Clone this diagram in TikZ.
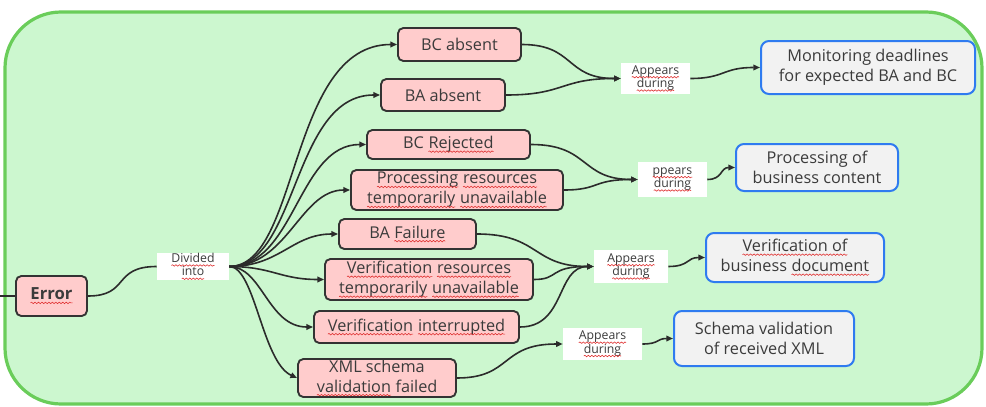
\documentclass[tikz,border=0pt]{standalone}
\usepackage{fontspec}
\setmainfont{Open Sans}
\usetikzlibrary{arrows.meta,decorations.pathmorphing}
\definecolor{gfill}{HTML}{CCF7CF}
\definecolor{gline}{HTML}{6ACD5A}
\definecolor{pfill}{HTML}{FFCCCC}
\definecolor{pline}{HTML}{333333}
\definecolor{bfill}{HTML}{F2F2F2}
\definecolor{bline}{HTML}{2F7BF0}
\definecolor{txt}{HTML}{3B3B3B}
\definecolor{squig}{HTML}{E03030}
\definecolor{wire}{HTML}{2B2B2B}
\newcommand\spl[1]{\tikz[baseline=(w.base)]{\node[inner sep=0pt,outer sep=0pt,draw=none,fill=none,minimum width=0pt,minimum height=0pt,sharp corners,text=txt] (w) {#1};\draw[squig,line width=0.45pt,sharp corners,decorate,decoration={snake,amplitude=0.55pt,segment length=2.6pt}] ([yshift=-2.2pt]w.base west) -- ([yshift=-2.2pt]w.base east);}}
\begin{document}
\begin{tikzpicture}[x=0.75pt,y=-0.75pt,
  sz/.style 2 args={minimum width={#1*0.75pt},minimum height={#2*0.75pt}},
  pinkbox/.style={draw=pline,fill=pfill,line width=1.4pt,rounded corners=4pt,inner sep=0pt,align=center,text=txt,font=\fontsize{12.2}{15}\selectfont},
  bluebox/.style={draw=bline,fill=bfill,line width=1.5pt,rounded corners=6pt,inner sep=0pt,align=center,text=txt,font=\fontsize{12.2}{15}\selectfont},
  lbl/.style={fill=white,inner sep=0pt,align=center,text=txt,font=\fontsize{9.2}{10}\selectfont},
  wirel/.style={draw=wire,line width=1.2pt},
  arr/.style={wirel,-{Triangle[length=5pt,width=4.2pt]}}]
\useasboundingbox (0,0) rectangle (986,407);
\fill[white] (0,0) rectangle (986,407);
\draw[fill=gfill,draw=gline,line width=2.4pt,rounded corners=42pt] (5,12) rectangle (982,404);

% pink error boxes
\node[pinkbox,sz={71}{40},font=\fontsize{12.5}{15}\selectfont\bfseries] (err) at (51.5,296) {\spl{Error}};
\node[pinkbox,sz={123}{33}] (bca) at (459.5,44.5) {BC absent};
\node[pinkbox,sz={124}{32}] (baa) at (443,95) {BA absent};
\node[pinkbox,sz={163}{29}] (bcr) at (448.5,144.5) {BC \spl{Rejected}};
\node[pinkbox,sz={212}{40}] (pru) at (457,190) {\spl{Processing} \spl{resources}\\\spl{temporarily} \spl{unavailable}};
\node[pinkbox,sz={137}{30}] (baf) at (407.5,234) {BA \spl{Failure}};
\node[pinkbox,sz={208}{41}] (vru) at (429,279.5) {\spl{Verification} \spl{resources}\\\spl{temporarily} \spl{unavailable}};
\node[pinkbox,sz={205}{32}] (vin) at (416.5,327) {\spl{Verification} \spl{interrupted}};
\node[pinkbox,sz={158}{38}] (xml) at (377,378) {XML schema\\\spl{validation} failed};

% labels
\node[lbl,sz={72}{27}] (div) at (193,266.5) {\spl{Divided}\\\spl{into}};
\node[lbl,sz={69}{31}] (a1) at (655.5,78.5) {\spl{Appears}\\\spl{during}};
\node[lbl,sz={69}{35}] (a2) at (672.5,179.5) {\spl{ppears}\\\spl{during}};
\node[lbl,sz={74}{33}] (a3) at (631,266.5) {\spl{Appears}\\\spl{during}};
\node[lbl,sz={79}{32}] (a4) at (602.5,344) {\spl{Appears}\\\spl{during}};

% blue boxes
\node[bluebox,sz={214}{53}] (mon) at (868,67.5) {Monitoring deadlines\\for expected BA and BC};
\node[bluebox,sz={162}{47}] (pbc) at (817,167.5) {Processing of\\business content};
\node[bluebox,sz={178}{49}] (vbd) at (795,257.5) {\spl{Verification of}\\business \spl{document}};
\node[bluebox,sz={180}{55}] (svx) at (764,338.5) {Schema validation\\of received XML};

% connectors
\coordinate (lin) at (0,296);
\draw[wirel] (lin) -- (err.west);
\draw[wirel] (err.east) .. controls (130,296) and (112,266.5) .. (div.west);

\draw[arr] (div.east) .. controls (300,266.5) and (288,44.5) .. (bca.west);
\draw[arr] (div.east) .. controls (298,266.5) and (292,95) .. (baa.west);
\draw[arr] (div.east) .. controls (295,266.5) and (298,144.5) .. (bcr.west);
\draw[arr] (div.east) .. controls (288,266.5) and (300,190) .. (pru.west);
\draw[arr] (div.east) .. controls (280,266.5) and (292,234) .. (baf.west);
\draw[arr] (div.east) .. controls (272,266.5) and (280,279.5) .. (vru.west);
\draw[arr] (div.east) .. controls (262,266.5) and (268,327) .. (vin.west);
\draw[arr] (div.east) .. controls (255,266.5) and (262,362) .. (xml.west);

\draw[arr] (bca.east) .. controls (575,44.5) and (565,78.5) .. (a1.west);
\draw[arr] (baa.east) .. controls (565,95) and (560,78.5) .. (a1.west);
\draw[arr] (a1.east) .. controls (725,78.5) and (722,67.5) .. (mon.west);

\draw[arr] (bcr.east) .. controls (590,144.5) and (580,179.5) .. (a2.west);
\draw[arr] (pru.east) .. controls (600,190) and (592,179.5) .. (a2.west);
\draw[arr] (a2.east) .. controls (723,179.5) and (720,167.5) .. (pbc.west);

\draw[arr] (baf.east) .. controls (540,234) and (532,266.5) .. (a3.west);
\draw[arr] (vru.east) .. controls (560,279.5) and (548,266.5) .. (a3.west);
\draw[arr] (vin.east) .. controls (566,327) and (556,266.5) .. (a3.west);
\draw[arr] (a3.east) .. controls (690,266.5) and (686,257.5) .. (vbd.west);

\draw[arr] (xml.east) .. controls (512,378) and (500,344) .. (a4.west);
\draw[arr] (a4.east) .. controls (660,344) and (656,338.5) .. (svx.west);
\end{tikzpicture}
\end{document}
